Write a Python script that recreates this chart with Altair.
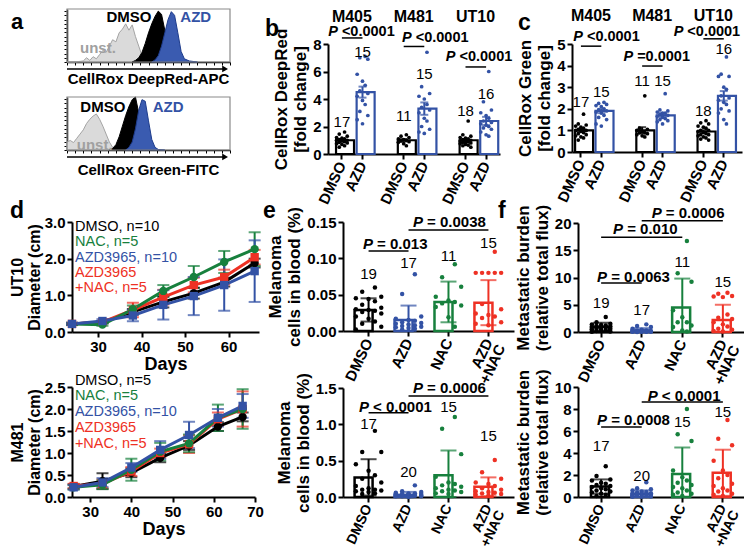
import altair as alt
import pandas as pd

FONT = "Liberation Sans"
W, H = 736, 541
BLACK = "#000000"
BLUE = "#3352A5"
GREEN = "#17803D"
RED = "#EE3124"
GRAY_FILL = "#DADADA"
GRAY_LINE = "#A4A4A4"

# ================= DATA =================
# a: flow histograms (x: fluorescence, display units 0-100; y: % of max)
a1_unst_x = [0, 5, 10, 12, 14, 16, 18, 20, 22, 24, 26, 28, 30, 32, 34, 36, 38, 40, 42, 44, 46, 48, 50]
a1_unst_y = [0, 0, 2, 8, 3, 10, 6, 14, 22, 18, 30, 42, 38, 55, 62, 72, 60, 70, 48, 30, 12, 3, 0]
a1_dmso_x = [40, 42, 44, 46, 48, 50, 52, 54, 56, 58, 60, 62, 64]
a1_dmso_y = [0, 3, 8, 18, 35, 55, 72, 86, 96, 90, 60, 20, 0]
a1_azd_x = [52, 54, 56, 58, 60, 62, 64, 66, 68, 70, 72, 75, 80]
a1_azd_y = [0, 4, 12, 30, 55, 80, 95, 88, 55, 20, 6, 2, 0]
a2_unst_x = [0, 2, 4, 6, 8, 10, 12, 14, 16, 18, 20, 22, 24, 26, 28, 30]
a2_unst_y = [15, 18, 14, 22, 30, 38, 50, 58, 64, 68, 58, 45, 30, 15, 5, 0]
a2_dmso_x = [26, 28, 30, 32, 34, 36, 38, 40, 42, 44, 46, 48]
a2_dmso_y = [0, 3, 10, 25, 45, 65, 82, 95, 100, 70, 20, 0]
a2_azd_x = [36, 38, 40, 42, 44, 46, 48, 50, 52, 54, 56, 60]
a2_azd_y = [0, 5, 15, 40, 75, 95, 92, 55, 20, 5, 1, 0]

# b, c: CellRox fold change
lines = ["M405", "M481", "UT10"]
b_dmso_mean = [1.0, 1.0, 1.0]
b_dmso_sem = [0.08, 0.09, 0.08]
b_azd_mean = [4.5, 3.3, 2.4]
b_azd_sem = [0.4, 0.45, 0.3]
b_dmso_dots = [
    [1.6, 1.45, 1.3, 1.2, 1.15, 1.1, 1.05, 1.0, 1.0, 0.95, 0.9, 0.85, 0.8, 0.75, 0.7, 0.6, 0.5],
    [1.4, 1.3, 1.2, 1.1, 1.05, 1.0, 0.95, 0.9, 0.85, 0.75, 0.6],
    [2.4, 1.4, 1.3, 1.2, 1.15, 1.1, 1.05, 1.0, 0.95, 0.9, 0.9, 0.85, 0.8, 0.75, 0.7, 0.65, 0.6, 0.5],
]
b_azd_dots = [
    [7.1, 7.0, 6.9, 5.8, 5.3, 5.0, 4.6, 4.4, 4.2, 3.9, 3.6, 3.1, 2.8, 2.5, 2.2],
    [7.4, 4.9, 4.4, 4.2, 4.0, 3.6, 3.4, 3.2, 3.0, 2.6, 2.4, 2.0, 1.8, 1.6, 1.5],
    [6.0, 3.8, 3.2, 3.0, 2.8, 2.6, 2.4, 2.3, 2.2, 2.1, 2.0, 1.9, 1.8, 1.6, 1.4, 1.3],
]
b_dmso_n = [17, 11, 18]
b_azd_n = [15, 15, 16]
b_dmso_n_y = [2.3, 2.8, 3.1]
b_azd_n_y = [7.4, 5.8, 4.4]
b_p = ["<0.0001", "<0.0001", "<0.0001"]

c_dmso_mean = [1.0, 1.0, 0.95]
c_dmso_sem = [0.07, 0.15, 0.06]
c_azd_mean = [1.9, 1.7, 2.6]
c_azd_sem = [0.1, 0.08, 0.22]
c_dmso_dots = [
    [1.75, 1.3, 1.25, 1.2, 1.15, 1.1, 1.05, 1.0, 1.0, 0.95, 0.9, 0.85, 0.8, 0.75, 0.7, 0.65, 0.55],
    [2.6, 1.1, 1.05, 1.0, 0.95, 0.9, 0.9, 0.85, 0.8, 0.75, 0.7],
    [1.45, 1.35, 1.3, 1.2, 1.15, 1.1, 1.0, 1.0, 0.95, 0.9, 0.85, 0.8, 0.8, 0.75, 0.7, 0.65, 0.6, 0.55],
]
c_azd_dots = [
    [2.3, 2.25, 2.2, 2.15, 2.1, 2.0, 1.95, 1.9, 1.85, 1.8, 1.7, 1.6, 1.5, 1.3, 1.2],
    [2.7, 1.95, 1.9, 1.85, 1.8, 1.8, 1.75, 1.7, 1.65, 1.6, 1.55, 1.5, 1.45, 1.4, 1.3],
    [4.4, 3.6, 3.5, 3.5, 3.0, 2.9, 2.6, 2.5, 2.4, 2.3, 2.2, 2.0, 1.9, 1.8, 1.5, 1.3],
]
c_dmso_n = [17, 11, 18]
c_azd_n = [15, 15, 16]
c_dmso_n_y = [2.3, 3.3, 1.9]
c_azd_n_y = [2.8, 3.3, 4.75]
c_p = ["<0.0001", "=0.0001", "<0.0001"]

# d: tumour growth
ut10_days = [24, 31, 38, 45, 52, 59, 66]
ut10_dmso = [0.22, 0.27, 0.55, 0.82, 1.06, 1.36, 1.88]
ut10_dmso_sd = [0.03, 0.03, 0.08, 0.15, 0.15, 0.12, 0.12]
ut10_nac = [0.22, 0.20, 0.62, 1.12, 1.50, 1.91, 2.26]
ut10_nac_sd = [0.03, 0.03, 0.10, 0.16, 0.30, 0.30, 0.46]
ut10_azd = [0.22, 0.30, 0.45, 0.74, 0.98, 1.28, 1.66]
ut10_azd_sd = [0.03, 0.05, 0.16, 0.40, 0.52, 0.70, 0.84]
ut10_azdnac = [0.22, 0.27, 0.60, 0.95, 1.28, 1.50, 2.04]
ut10_azdnac_sd = [0.03, 0.03, 0.20, 0.20, 0.20, 0.20, 0.20]
ut10_legend = ["DMSO, n=10", "NAC, n=5", "AZD3965, n=10", "AZD3965", "+NAC, n=5"]

m481_days = [26, 33, 40, 47, 54, 61, 67]
m481_dmso = [0.24, 0.36, 0.55, 0.89, 1.17, 1.60, 1.82]
m481_dmso_sd = [0.05, 0.18, 0.10, 0.10, 0.10, 0.10, 0.10]
m481_nac = [0.22, 0.28, 0.62, 1.03, 1.22, 1.80, 2.00]
m481_nac_sd = [0.05, 0.10, 0.25, 0.20, 0.20, 0.30, 0.45]
m481_azd = [0.22, 0.33, 0.67, 1.07, 1.41, 1.80, 2.07]
m481_azd_sd = [0.05, 0.10, 0.10, 0.20, 0.30, 0.20, 0.27]
m481_azdnac = [0.25, 0.30, 0.58, 1.00, 1.20, 1.77, 2.00]
m481_azdnac_sd = [0.05, 0.10, 0.10, 0.10, 0.20, 0.15, 0.40]
m481_legend = ["DMSO, n=5", "NAC, n=5", "AZD3965, n=10", "AZD3965", "+NAC, n=5"]
legend_colors = [BLACK, GREEN, BLUE, RED, RED]

# e, f: groups
groups = ["DMSO", "AZD", "NAC", "AZD+NAC"]
group_colors = [BLACK, BLUE, GREEN, RED]

e1_mean = [0.029, 0.015, 0.040, 0.039]
e1_sd = [0.016, 0.020, 0.028, 0.031]
e1_n = [19, 17, 11, 15]
e1_n_y = [0.078, 0.094, 0.103, 0.121]
e1_dots = [
    [0.060, 0.054, 0.047, 0.045, 0.044, 0.041, 0.036, 0.032, 0.030, 0.029, 0.028, 0.026, 0.024, 0.020, 0.017, 0.013, 0.010, 0.006, 0.002],
    [0.078, 0.051, 0.020, 0.017, 0.015, 0.014, 0.012, 0.011, 0.010, 0.009, 0.008, 0.007, 0.006, 0.005, 0.004, 0.003, 0.002],
    [0.092, 0.074, 0.061, 0.047, 0.042, 0.040, 0.038, 0.035, 0.033, 0.019, 0.006],
    [0.109, 0.080, 0.080, 0.080, 0.080, 0.080, 0.037, 0.030, 0.024, 0.022, 0.020, 0.018, 0.012, 0.010, 0.008],
]
e2_mean = [0.27, 0.03, 0.30, 0.14]
e2_sd = [0.25, 0.04, 0.34, 0.13]
e2_n = [17, 20, 15, 15]
e2_n_y = [1.0, 0.34, 1.24, 0.84]
e2_dots = [
    [0.91, 0.62, 0.62, 0.45, 0.36, 0.30, 0.25, 0.20, 0.15, 0.12, 0.10, 0.10, 0.09, 0.08, 0.07, 0.05, 0.04],
    [0.16, 0.08, 0.07, 0.06, 0.05, 0.05, 0.04, 0.04, 0.04, 0.03, 0.03, 0.03, 0.02, 0.02, 0.02, 0.02, 0.01, 0.01, 0.01, 0.00],
    [1.10, 0.94, 0.59, 0.28, 0.20, 0.18, 0.16, 0.14, 0.12, 0.10, 0.09, 0.08, 0.07, 0.05, 0.04],
    [0.51, 0.34, 0.25, 0.20, 0.18, 0.15, 0.12, 0.10, 0.08, 0.07, 0.06, 0.05, 0.04, 0.03, 0.02],
]
f1_mean = [0.95, 0.30, 4.5, 2.2]
f1_sd = [0.75, 0.40, 5.3, 2.8]
f1_n = [19, 17, 11, 15]
f1_n_y = [5.3, 4.0, 12.9, 9.2]
f1_dots = [
    [2.75, 1.8, 1.5, 1.4, 1.3, 1.2, 1.1, 1.0, 0.9, 0.8, 0.8, 0.7, 0.6, 0.5, 0.4, 0.3, 0.2, 0.1, 0.05],
    [1.4, 1.1, 0.9, 0.6, 0.4, 0.3, 0.25, 0.2, 0.15, 0.1, 0.1, 0.08, 0.06, 0.05, 0.04, 0.03, 0.02],
    [16.7, 10.8, 9.2, 4.0, 2.7, 1.8, 1.8, 1.2, 0.9, 0.3, 0.1],
    [7.2, 7.0, 6.6, 6.5, 6.4, 3.2, 2.6, 2.4, 1.8, 1.4, 1.0, 0.6, 0.4, 0.2, 0.1],
]
f2_mean = [0.95, 0.30, 2.1, 2.2]
f2_sd = [0.65, 0.30, 2.4, 2.1]
f2_n = [17, 20, 15, 15]
f2_n_y = [4.6, 1.9, 6.8, 7.7]
f2_dots = [
    [2.8, 1.9, 1.6, 1.5, 1.3, 1.2, 1.1, 1.0, 0.9, 0.8, 0.7, 0.6, 0.5, 0.4, 0.3, 0.2, 0.1],
    [1.35, 0.8, 0.7, 0.6, 0.5, 0.45, 0.4, 0.35, 0.3, 0.3, 0.25, 0.2, 0.2, 0.15, 0.1, 0.1, 0.08, 0.05, 0.03, 0.02],
    [8.0, 5.7, 5.1, 2.4, 1.8, 1.5, 1.3, 1.1, 0.9, 0.8, 0.6, 0.4, 0.3, 0.2, 0.1],
    [7.0, 5.3, 4.7, 3.3, 2.4, 2.0, 1.7, 1.2, 1.0, 0.8, 0.6, 0.5, 0.3, 0.2, 0.1],
]


# ================= HELPERS =================
def px(v):
    return v - 8


def qscale(dom, r0, r1):
    return alt.Scale(domain=dom, range=[px(r0), px(r1)], nice=False, zero=False)


def bscale(cats, r0, r1, pin, pout, align=0.5):
    return alt.Scale(domain=cats, range=[px(r0), px(r1)], paddingInner=pin,
                     paddingOuter=pout, align=align, round=False)


def XF(field, xs, xax, t="N"):
    return alt.X(f"{field}:{t}", scale=xs, axis=xax)


def YF(field, ys, yax):
    return alt.Y(f"{field}:Q", scale=ys, axis=yax)


def bar_layers(bars, dots, nlab, xs, ys, xax, yax, dot_size, cap, sw):
    col = alt.Color("col:N", scale=None)
    L = [
        alt.Chart(bars).mark_bar(fill="white", strokeWidth=sw).encode(
            x=XF("cat", xs, xax), y=YF("m", ys, yax), stroke=alt.Stroke("col:N", scale=None)),
        alt.Chart(dots).transform_window(rn="row_number()", groupby=["cat"])
        .transform_calculate(slot="datum.rn % 5")
        .mark_circle(size=dot_size, opacity=1).encode(
            x=XF("cat", xs, xax),
            xOffset=alt.XOffset("slot:O", scale=alt.Scale(domain=[4, 2, 0, 1, 3], paddingInner=0, paddingOuter=0.2)),
            y=YF("v", ys, yax), color=col),
        alt.Chart(bars).mark_rule(strokeWidth=2).encode(
            x=XF("cat", xs, xax), y=YF("lo", ys, yax), y2="hi:Q", color=col),
    ]
    for f in ["lo", "hi"]:
        L.append(alt.Chart(bars).mark_tick(orient="horizontal", size=cap, thickness=2).encode(
            x=XF("cat", xs, xax), y=YF(f, ys, yax), color=col))
    L.append(alt.Chart(nlab).mark_text(fontSize=15, font=FONT).encode(
        x=XF("cat", xs, xax), y=YF("y", ys, yax), text="n:N"))
    return L


def p_layers(items, xs, ys, xax, yax, fs=15):
    L = []
    for acat, dx, ty, rest, c0, c1, ly in items:
        tdf = pd.DataFrame({"cat": [acat], "y": [ty]})
        L.append(alt.Chart(tdf).mark_text(text="P", align="right", dx=dx, fontSize=fs,
                                          fontWeight="bold", fontStyle="italic").encode(
            x=XF("cat", xs, xax), y=YF("y", ys, yax)))
        L.append(alt.Chart(tdf).mark_text(text=rest, align="left", dx=dx + 4, fontSize=fs,
                                          fontWeight="bold").encode(
            x=XF("cat", xs, xax), y=YF("y", ys, yax)))
        ldf = pd.DataFrame({"a": [c0], "b": [c1], "y": [ly]})
        L.append(alt.Chart(ldf).mark_rule(strokeWidth=1.5, color=BLACK).encode(
            x=XF("a", xs, xax), x2="b:N", y=YF("y", ys, yax)))
    return L


def bar_xaxis(y0, values=None, expr=None, size=15):
    kw = dict(orient="bottom", offset=px(y0) - H, title=None, labelAngle=-65,
              labelAlign="right", labelBaseline="middle", labelLineHeight=14,
              labelPadding=3, labelFontSize=size)
    if values is not None:
        kw["values"] = values
    if expr is not None:
        kw["labelExpr"] = expr
    return alt.Axis(**kw)


def fold_panel(dm_mean, dm_sem, az_mean, az_sem, dm_dots, az_dots, dm_n, az_n, dm_ny, az_ny,
               p_texts, p_dx, p_y, p_ly, label_y, xr, pin, pout, align, yr, ydom, yvals, ytitle):
    cats = []
    for i, ln in enumerate(lines):
        cats += [f"{ln}|DMSO", f"{ln}|AZD"]
        if i < len(lines) - 1:
            cats.append(f"gap{i}")
    real = [c for c in cats if "|" in c]
    xs = bscale(cats, xr[0], xr[1], pin, pout, align)
    ys = qscale(ydom, yr[0], yr[1])
    xax = bar_xaxis(yr[0], values=real, expr="split(datum.value, '|')[1]")
    yax = alt.Axis(orient="left", offset=-px(xr[0]), values=yvals, title=ytitle, format="d")
    brow, drow, nrow = [], [], []
    for i, ln in enumerate(lines):
        for tr, m, e, dd, n, ny, c in [("DMSO", dm_mean[i], dm_sem[i], dm_dots[i], dm_n[i], dm_ny[i], BLACK),
                                       ("AZD", az_mean[i], az_sem[i], az_dots[i], az_n[i], az_ny[i], BLUE)]:
            cat = f"{ln}|{tr}"
            brow.append(dict(cat=cat, m=m, lo=m - e, hi=m + e, col=c))
            drow += [dict(cat=cat, v=v, col=c) for v in dd]
            nrow.append(dict(cat=cat, y=ny, n=n))
    L = bar_layers(pd.DataFrame(brow), pd.DataFrame(drow), pd.DataFrame(nrow), xs, ys, xax, yax, 14, 8, 2.2)
    items = [(f"{ln}|DMSO", p_dx[i], p_y[i], p_texts[i], f"{ln}|DMSO", f"{ln}|AZD", p_ly[i])
             for i, ln in enumerate(lines)]
    L += p_layers(items, xs, ys, xax, yax, fs=14.5)
    gdf = pd.DataFrame({"cat": [f"{ln}|DMSO" for ln in lines], "y": [label_y] * 3, "t": lines})
    L.append(alt.Chart(gdf).mark_text(dx=10, fontSize=16, fontWeight="bold").encode(
        x=XF("cat", xs, xax), y=YF("y", ys, yax), text="t:N"))
    return alt.layer(*L)


def group_panel(mean, sd, dots, ns, nys, xr, pin, pout, yr, ydom, yvals, yfmt, ytitle, pitems,
                cap, barw, lsize=15):
    xs = bscale(groups, xr[0], xr[1], pin, pout, 0.5)
    ys = qscale(ydom, yr[0], yr[1])
    xax = bar_xaxis(yr[0], expr="datum.value == 'AZD+NAC' ? ['AZD', '+NAC'] : datum.value", size=lsize)
    yax = alt.Axis(orient="left", offset=-px(xr[0]), values=yvals, title=ytitle, format=yfmt)
    bars = pd.DataFrame({"cat": groups, "m": mean, "col": group_colors,
                         "lo": [max(0.0, m - s) for m, s in zip(mean, sd)],
                         "hi": [m + s for m, s in zip(mean, sd)]})
    drow = []
    for g, c, dd in zip(groups, group_colors, dots):
        drow += [dict(cat=g, v=v, col=c) for v in dd]
    nlab = pd.DataFrame({"cat": groups, "y": nys, "n": ns})
    L = bar_layers(bars, pd.DataFrame(drow), nlab, xs, ys, xax, yax, 20, cap, barw)
    L += p_layers(pitems, xs, ys, xax, yax)
    return alt.layer(*L)


def growth_panel(days, series, sds, xdom, xr, ydom, yr, yvals, xvals, ytitle, legend, leg_x, leg_y):
    order = ["DMSO", "AZD+NAC", "NAC", "AZD"]
    cmap = {"DMSO": BLACK, "NAC": GREEN, "AZD": BLUE, "AZD+NAC": RED}
    smap = {"DMSO": "circle", "NAC": "circle", "AZD": "square", "AZD+NAC": "square"}
    xs = qscale(xdom, xr[0], xr[1])
    ys = qscale(ydom, yr[0], yr[1])
    xax = alt.Axis(orient="bottom", offset=px(yr[0]) - H, values=xvals, format="d",
                   title="Days", titleFontSize=18, titlePadding=1)
    yax = alt.Axis(orient="left", offset=-px(xr[0]), values=yvals, format=".1f", title=ytitle,
                   titleFontSize=16, titleLineHeight=17, titlePadding=2)
    rows = []
    for g in order:
        for d, m, s in zip(days, series[g], sds[g]):
            rows.append(dict(grp=g, day=d, m=m, lo=m - s, hi=m + s))
    df = pd.DataFrame(rows)
    col = alt.Color("grp:N", scale=alt.Scale(domain=order, range=[cmap[g] for g in order]), legend=None)
    shp = alt.Shape("grp:N", scale=alt.Scale(domain=order, range=[smap[g] for g in order]), legend=None)
    L = [
        alt.Chart(df).mark_rule(strokeWidth=2).encode(
            x=XF("day", xs, xax, "Q"), y=YF("lo", ys, yax), y2="hi:Q", color=col, detail="grp:N"),
        alt.Chart(df).mark_tick(orient="horizontal", size=12, thickness=2).encode(
            x=XF("day", xs, xax, "Q"), y=YF("lo", ys, yax), color=col),
        alt.Chart(df).mark_tick(orient="horizontal", size=12, thickness=2).encode(
            x=XF("day", xs, xax, "Q"), y=YF("hi", ys, yax), color=col),
        alt.Chart(df).mark_line(strokeWidth=3).encode(
            x=XF("day", xs, xax, "Q"), y=YF("m", ys, yax), color=col, detail="grp:N"),
        alt.Chart(df).mark_point(filled=True, size=70, opacity=1).encode(
            x=XF("day", xs, xax, "Q"), y=YF("m", ys, yax), color=col, shape=shp),
    ]
    ldf = pd.DataFrame({"t": legend, "x": [leg_x] * len(legend), "y": leg_y, "c": legend_colors})
    L.append(alt.Chart(ldf).mark_text(align="left", fontSize=14.5).encode(
        x=XF("x", xs, xax, "Q"), y=YF("y", ys, yax), text="t:N", color=alt.Color("c:N", scale=None)))
    return alt.layer(*L)


def hist_panel(curves, yb, yt, texts, arrow_y, cap_text, cap_y):
    xs = qscale([0, 100], 67, 230)
    ys = qscale([0, 100], yb, yt)
    xax = alt.Axis(orient="bottom", offset=px(yb) - H, labels=False, title=None,
                   values=list(range(0, 101, 5)), tickSize=3, tickWidth=1, domainWidth=1.5)
    yax = alt.Axis(orient="left", offset=-px(67), labels=False, title=None,
                   values=list(range(0, 101, 8)), tickSize=3, tickWidth=1, domainWidth=1.5)
    L = []
    for cx, cy, fill, stroke in curves:
        df = pd.DataFrame({"x": cx, "y": cy})
        L.append(alt.Chart(df).mark_area(fill=fill, stroke=stroke, strokeWidth=1, opacity=1).encode(
            x=XF("x", xs, xax, "Q"), y=YF("y", ys, yax)))
    box = pd.DataFrame({"x": [0], "x2": [100], "y": [0], "y2": [100]})
    L.append(alt.Chart(box).mark_rect(fillOpacity=0, stroke="#8a8a8a", strokeWidth=1.2).encode(
        x=XF("x", xs, xax, "Q"), x2="x2:Q", y=YF("y", ys, yax), y2="y2:Q"))
    tdf = pd.DataFrame(texts, columns=["t", "x", "y", "c"])
    L.append(alt.Chart(tdf).mark_text(fontSize=15, fontWeight="bold").encode(
        x=XF("x", xs, xax, "Q"), y=YF("y", ys, yax), text="t:N", color=alt.Color("c:N", scale=None)))
    adf = pd.DataFrame({"x": [0], "x2": [97], "y": [arrow_y]})
    L.append(alt.Chart(adf).mark_rule(strokeWidth=1.5, color=BLACK).encode(
        x=XF("x", xs, xax, "Q"), x2="x2:Q", y=YF("y", ys, yax)))
    L.append(alt.Chart(adf).mark_point(shape="triangle-right", filled=True, size=45, opacity=1, color=BLACK).encode(
        x=XF("x2", xs, xax, "Q"), y=YF("y", ys, yax)))
    cdf = pd.DataFrame({"t": [cap_text], "x": [50], "y": [cap_y]})
    L.append(alt.Chart(cdf).mark_text(fontSize=15, fontWeight="bold").encode(
        x=XF("x", xs, xax, "Q"), y=YF("y", ys, yax), text="t:N"))
    return alt.layer(*L)


# ================= PANELS =================
AZD_FILL, AZD_LINE = "#3A5BB0", "#1E3C8C"
panel_a1 = hist_panel(
    [(a1_unst_x, a1_unst_y, GRAY_FILL, GRAY_LINE), (a1_dmso_x, a1_dmso_y, BLACK, BLACK),
     (a1_azd_x, a1_azd_y, AZD_FILL, AZD_LINE)],
    62, 9,
    [("DMSO", 38, 84, BLACK), ("AZD", 79, 84, BLUE), ("unst.", 19, 26, "#A0A0A0")],
    -13, "CellRox DeepRed-APC", -33)
panel_a2 = hist_panel(
    [(a2_unst_x, a2_unst_y, GRAY_FILL, GRAY_LINE), (a2_dmso_x, a2_dmso_y, BLACK, BLACK),
     (a2_azd_x, a2_azd_y, AZD_FILL, AZD_LINE)],
    150, 97,
    [("DMSO", 22, 81, BLACK), ("AZD", 62, 81, BLUE), ("unst.", 17, 10, "#A0A0A0")],
    -13, "CellRox Green-FITC", -38)

panel_b = fold_panel(b_dmso_mean, b_dmso_sem, b_azd_mean, b_azd_sem, b_dmso_dots, b_azd_dots,
                     b_dmso_n, b_azd_n, b_dmso_n_y, b_azd_n_y,
                     b_p, [-4, 8, -10], [8.87, 8.44, 7.05], [8.44, 7.82, 6.33], 10.0,
                     (328, 500), 0.43, 0.39, 0.5, (154, 44), [0, 8], [0, 2, 4, 6, 8],
                     ["CellRox DeepRed", "[fold change]"])
panel_c = fold_panel(c_dmso_mean, c_dmso_sem, c_azd_mean, c_azd_sem, c_dmso_dots, c_azd_dots,
                     c_dmso_n, c_azd_n, c_dmso_n_y, c_azd_n_y,
                     c_p, [2, -9, -20], [5.32, 4.4, 5.55], [4.9, 3.98, 5.24], 6.3,
                     (572, 742), 0.43, 0.38, 0.2, (152, 44), [0, 5], [0, 1, 2, 3, 4, 5],
                     ["CellRox Green", "[fold change]"])

panel_d1 = growth_panel(
    ut10_days,
    {"DMSO": ut10_dmso, "NAC": ut10_nac, "AZD": ut10_azd, "AZD+NAC": ut10_azdnac},
    {"DMSO": ut10_dmso_sd, "NAC": ut10_nac_sd, "AZD": ut10_azd_sd, "AZD+NAC": ut10_azdnac_sd},
    [24, 67], (72, 259), [0, 3], (332, 222), [0, 1, 2, 3], [30, 40, 50, 60],
    ["UT10", "Diameter (cm)"], ut10_legend, 24.7, [2.86, 2.45, 2.02, 1.61, 1.2])
panel_d2 = growth_panel(
    m481_days,
    {"DMSO": m481_dmso, "NAC": m481_nac, "AZD": m481_azd, "AZD+NAC": m481_azdnac},
    {"DMSO": m481_dmso_sd, "NAC": m481_nac_sd, "AZD": m481_azd_sd, "AZD+NAC": m481_azdnac_sd},
    [25.6, 70], (72, 255), [0, 2.5], (497, 387), [0, 0.5, 1.0, 1.5, 2.0, 2.5], [30, 40, 50, 60, 70],
    ["M481", "Diameter (cm)"], m481_legend, 26.3, [2.64, 2.3, 1.93, 1.57, 1.2])

panel_e1 = group_panel(e1_mean, e1_sd, e1_dots, e1_n, e1_n_y, (343, 514), 0.3, 0.29,
                       (331, 222), [0, 0.15], [0, 0.05, 0.10, 0.15], ".2f",
                       ["Melanoma", "cells in blood (%)"],
                       [("DMSO", 4.5, 0.1197, "= 0.013", "DMSO", "AZD", 0.110),
                        ("AZD", 14.5, 0.150, "= 0.0038", "AZD", "AZD+NAC", 0.139)], 16, 2.5)
panel_e2 = group_panel(e2_mean, e2_sd, e2_dots, e2_n, e2_n_y, (343, 514), 0.3, 0.29,
                       (497, 388), [0, 1.5], [0, 0.5, 1.0, 1.5], ".1f",
                       ["Melanoma", "cells in blood (%)"],
                       [("DMSO", 0.5, 1.24, "< 0.0001", "DMSO", "AZD", 1.16),
                        ("AZD", 14.5, 1.50, "= 0.0006", "AZD", "AZD+NAC", 1.39)], 16, 2.5, lsize=14)
panel_f1 = group_panel(f1_mean, f1_sd, f1_dots, f1_n, f1_n_y, (578, 746), 0.5, 0.32,
                       (332, 223), [0, 20], [0, 5, 10, 15, 20], "d",
                       ["Metastatic burden", "(relative total flux)"],
                       [("AZD", 20, 21.8, "= 0.0006", "AZD", "AZD+NAC", 20.4),
                        ("DMSO", 22, 18.9, "= 0.010", "DMSO", "NAC", 17.4),
                        ("DMSO", 6, 10.1, "= 0.0063", "DMSO", "AZD", 9.0)], 16, 2.5)
panel_f2 = group_panel(f2_mean, f2_sd, f2_dots, f2_n, f2_n_y, (578, 746), 0.5, 0.32,
                       (497, 387), [0, 10], [0, 2, 4, 6, 8, 10], "d",
                       ["Metastatic burden", "(relative total flux)"],
                       [("DMSO", 6, 7.0, "= 0.0008", "DMSO", "AZD", 6.36),
                        ("AZD", 16, 9.18, "< 0.0001", "AZD", "AZD+NAC", 8.64)], 16, 2.5, lsize=14)

letters = []
for t, lx, ly, fs in [("a", 3, 21, 22), ("b", 257, 28, 23), ("c", 510, 22, 23),
                      ("d", 2, 210, 23), ("e", 255, 210, 23), ("f", 490, 210, 23)]:
    letters.append(alt.Chart(pd.DataFrame({"t": [t]})).mark_text(
        x=lx, y=ly, align="left", baseline="alphabetic", fontSize=fs, fontWeight="bold").encode(text="t:N"))

chart = alt.layer(
    panel_a1, panel_a2, panel_b, panel_c, panel_d1, panel_d2,
    panel_e1, panel_e2, panel_f1, panel_f2, *letters
).resolve_scale(
    x="independent", y="independent", xOffset="independent", color="independent", shape="independent"
).properties(
    width=W, height=H, padding=0, autosize=alt.AutoSizeParams(type="none")
).configure_view(stroke=None).configure_axis(
    labelFont=FONT, titleFont=FONT, labelFontSize=15, labelFontWeight="bold",
    titleFontSize=17, titleFontWeight="bold", labelColor="black", titleColor="black",
    domainColor="black", tickColor="black", domainWidth=2, tickWidth=2, tickSize=5,
    grid=False, labelPadding=2, titlePadding=3, labelFlush=False, labelOverlap=False
).configure_text(font=FONT, color="black")

chart.save("out.html", embed_options={"renderer": "svg", "actions": False})
